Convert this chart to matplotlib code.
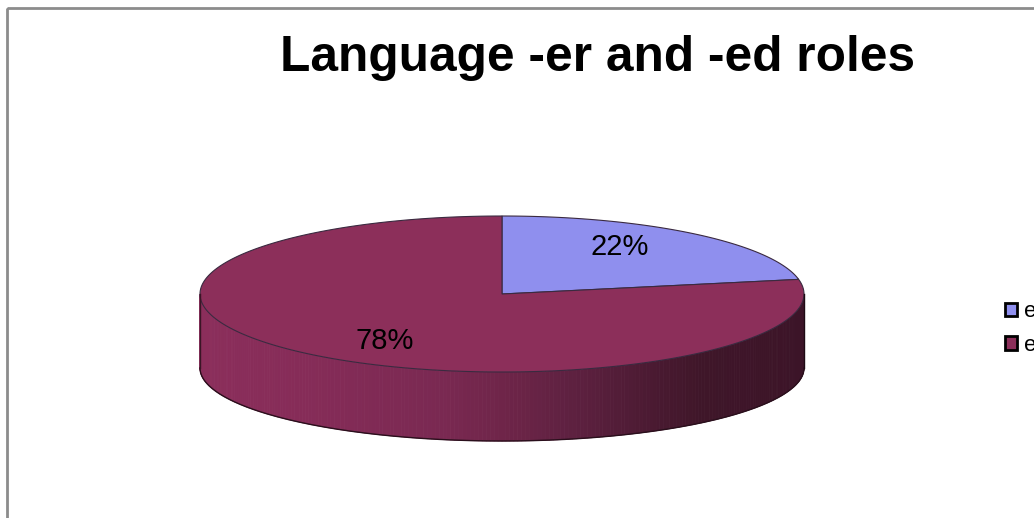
import numpy as np
import matplotlib
matplotlib.use("Agg")
import matplotlib.pyplot as plt
from matplotlib.patches import Polygon, Rectangle, Patch
from matplotlib.colors import LinearSegmentedColormap

plt.rcParams['font.family'] = ['Liberation Sans', 'DejaVu Sans']

title = "Language -er and -ed roles"
labels = ["er", "ed"]
shares = [22, 78]
top_colors = ["#8f8fee", "#8c2f5a"]

# pie geometry in pixels
cx, cy = 502, 294
rx, ry = 302, 78
cyb, ryb = 368, 73

side_cmap = LinearSegmentedColormap.from_list(
    "side",
    [(0.0, "#8b2e5b"), (0.17, "#862c58"), (0.40, "#7a2952"), (0.50, "#6f2549"),
     (0.61, "#5f2141"), (0.83, "#3f1629"), (1.0, "#3c1428")])


def ell(theta, ccy, rry):
    return cx + rx * np.sin(theta), ccy - rry * np.cos(theta)


fig = plt.figure(figsize=(10.34, 5.18), dpi=100)
ax = fig.add_axes([0, 0, 1, 1])
ax.set_xlim(0, 1034)
ax.set_ylim(518, 0)
ax.axis("off")

# chart border
ax.add_patch(Rectangle((6.5, 7.5), 1200, 700, fill=False, edgecolor="#8c8c8c", lw=2))

# side wall (front half, angles 90..270 deg clockwise from top)
n = 240
th = np.linspace(np.pi / 2, 3 * np.pi / 2, n + 1)
for i in range(n):
    t = th[i:i + 2]
    xt, yt = ell(t, cy, ry)
    xb, yb = ell(t[::-1], cyb, ryb)
    pts = np.column_stack([np.r_[xt, xb], np.r_[yt, yb]])
    frac = ((xt.mean() - (cx - rx)) / (2 * rx))
    ax.add_patch(Polygon(pts, closed=True, facecolor=side_cmap(frac),
                         edgecolor=side_cmap(frac), lw=0.6))
# side outline
xo, yo = ell(th, cyb, ryb)
ax.plot(xo, yo, color="#2a0f1c", lw=1)
ax.plot([cx - rx, cx - rx], [cy, cyb], color="#3a1526", lw=1)
ax.plot([cx + rx, cx + rx], [cy, cyb], color="#1e0a14", lw=1)

# top face slices
total = sum(shares)
start = 0.0
label_pos = []
for s, col in zip(shares, top_colors):
    a0 = start / total * 2 * np.pi
    a1 = (start + s) / total * 2 * np.pi
    tt = np.linspace(a0, a1, 200)
    x, y = ell(tt, cy, ry)
    pts = np.column_stack([np.r_[cx, x], np.r_[cy, y]])
    ax.add_patch(Polygon(pts, closed=True, facecolor=col, edgecolor="#3a2a40", lw=0.8))
    mid = (a0 + a1) / 2
    label_pos.append((cx + rx * 0.61 * np.sin(mid), cy - ry * 0.78 * np.cos(mid)))
    start += s

for (lx, ly), s in zip(label_pos, shares):
    ax.text(lx, ly, f"{s}%", fontsize=21, ha="center", va="center", color="black")

fig.text(598 / 1034, 1 - 58 / 518, title, fontsize=35.7, fontweight="bold",
         ha="center", va="center")

handles = [Patch(facecolor=c, edgecolor="black", lw=2) for c in top_colors]
fig.legend(handles=handles, labels=labels, loc="upper left",
           bbox_to_anchor=(994 / 1034, 1 - 290 / 518), frameon=False,
           fontsize=16, handlelength=0.55, handleheight=0.55,
           handletextpad=0.3, labelspacing=0.57, borderpad=0)

fig.savefig("out.png", dpi=100)
